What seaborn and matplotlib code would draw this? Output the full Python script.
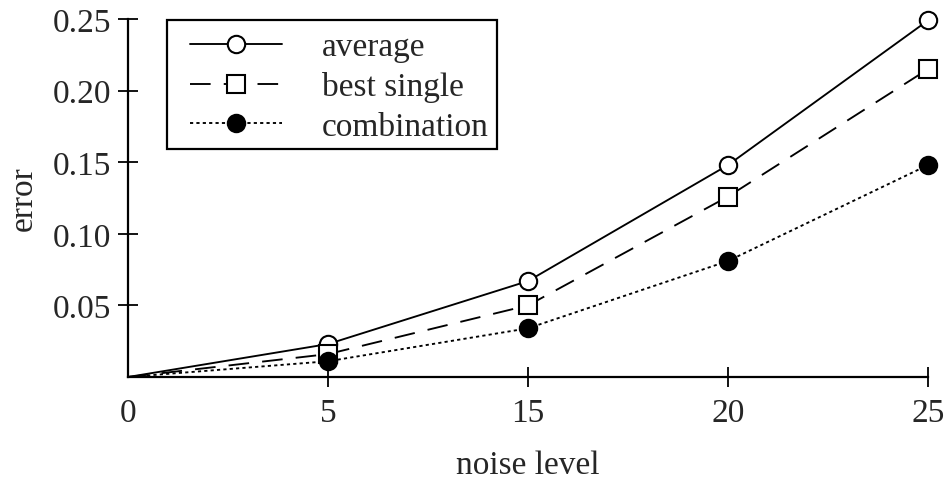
import matplotlib
matplotlib.use("Agg")
import matplotlib.pyplot as plt
from matplotlib.lines import Line2D
from matplotlib.patches import Rectangle
import seaborn as sns
import numpy as np

noise_levels = ["0", "5", "15", "20", "25"]
average = [0.0, 0.023, 0.067, 0.148, 0.249]
best_single = [0.0, 0.016, 0.050, 0.126, 0.215]
combination = [0.0, 0.011, 0.034, 0.081, 0.148]
y_ticks = [0.05, 0.10, 0.15, 0.20, 0.25]
y_tick_labels = ["0.05", "0.10", "0.15", "0.20", "0.25"]

sns.set_style("ticks")
plt.rcParams["font.family"] = ["Liberation Serif", "DejaVu Serif"]

W, H = 946, 481
fig = plt.figure(figsize=(W / 100, H / 100), dpi=100)
ax = fig.add_axes([128 / W, 1 - 378 / H, 800 / W, 358 / H])

xpos = np.arange(len(noise_levels))
lw = 1.35
ms = 12.5
mew = 1.5
styles = [
    (average, "-", "o", "white", "average"),
    (best_single, (0, (11, 7)), "s", "white", "best single"),
    (combination, (0, (1.7, 1.7)), "o", "black", "combination"),
]
handles = []
for vals, ls, mk, fc, lab in styles:
    sns.lineplot(x=xpos, y=vals, ax=ax, color="black", linewidth=lw,
                 linestyle=ls, marker=mk, markersize=ms, markerfacecolor=fc,
                 markeredgecolor="black", markeredgewidth=mew,
                 markevery=[1, 2, 3, 4], clip_on=False, zorder=3)
    handles.append(Line2D([], [], color="black", linewidth=lw, linestyle=ls,
                          marker=mk, markersize=ms, markerfacecolor=fc,
                          markeredgecolor="black", markeredgewidth=mew,
                          label=lab))

ax.set_xlim(0, len(noise_levels) - 1)
ax.set_ylim(0, 0.25)
ax.set_xticks(xpos)
ax.set_xticklabels(noise_levels)
ax.set_yticks(y_ticks)
ax.set_yticklabels(y_tick_labels)
ax.tick_params(axis="both", direction="inout", length=14, width=1.3,
               labelsize=24, color="black")
ax.tick_params(axis="x", pad=8)
ax.tick_params(axis="y", pad=5)
ax.xaxis.get_major_ticks()[0].tick1line.set_visible(False)

for s in ["top", "right"]:
    ax.spines[s].set_visible(False)
for s in ["left", "bottom"]:
    ax.spines[s].set_linewidth(1.6)
    ax.spines[s].set_color("black")

ax.set_xlabel("noise level", fontsize=24, labelpad=15)
ax.set_ylabel("error", fontsize=24, labelpad=10)

# legend frame (drawn separately so the inner padding matches the reference)
def ax_x(px):
    return (px - 128) / 800

def ax_y(py):
    return (378 - py) / 358

frame = Rectangle((ax_x(167), ax_y(150)), ax_x(497) - ax_x(167),
                  ax_y(21) - ax_y(150), transform=ax.transAxes,
                  facecolor="white", edgecolor="black", linewidth=1.6,
                  zorder=5, clip_on=False)
ax.add_patch(frame)

leg = ax.legend(handles=handles, loc="upper left",
                bbox_to_anchor=(ax_x(190), ax_y(33)),
                fontsize=24, frameon=False, handlelength=2.75,
                handletextpad=1.2, borderpad=0, labelspacing=0.27,
                borderaxespad=0)
leg.set_zorder(6)

fig.savefig("out.png", dpi=100)
